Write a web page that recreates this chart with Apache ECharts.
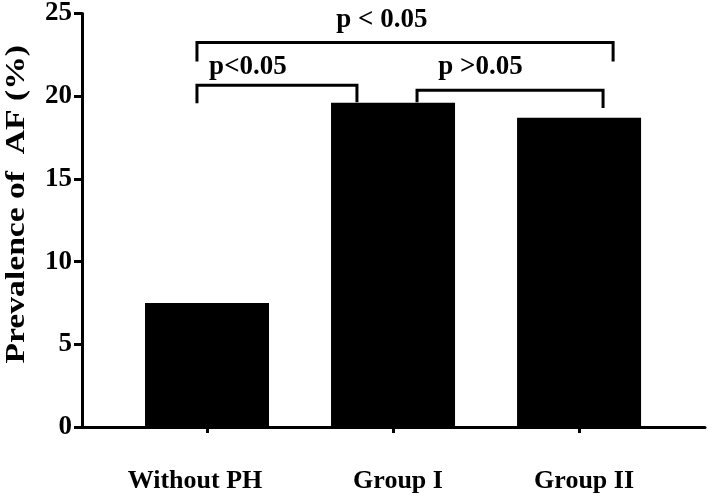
<!DOCTYPE html>
<html>
<head>
<meta charset="utf-8">
<script src="https://cdn.jsdelivr.net/npm/echarts@6/dist/echarts.min.js"></script>
<style>html,body{margin:0;padding:0;background:#fff;}#c{width:709px;height:504px;}</style>
</head>
<body>
<div id="c"></div>
<script>
// Data
const categories = ['Without PH', 'Group I', 'Group II'];
const values = [7.5, 19.6, 18.7];
const yTicks = [0, 5, 10, 15, 20, 25];
const yTitle = 'Prevalence of  AF (%)';
// significance brackets: [x, y] in data coordinates
const bracketTop = [[-0.054, 22.1], [-0.054, 23.25], [2.183, 23.25], [2.183, 22.1]];
const bracketLeft = [[-0.054, 19.58], [-0.054, 20.66], [0.806, 20.66], [0.806, 19.64]];
const bracketRight = [[1.129, 19.64], [1.129, 20.36], [2.129, 20.36], [2.129, 19.28]];
const pLabels = [
  { text: 'p < 0.05', pos: [0.94, 24.6] },
  { text: 'p<0.05', pos: [0.22, 21.75] },
  { text: 'p >0.05', pos: [1.47, 21.75] }
];

const font = '"Liberation Serif", "Times New Roman", serif';
const chart = echarts.init(document.getElementById('c'), null, { renderer: 'canvas' });

function bracket(d) {
  return {
    type: 'line', data: d, symbol: 'none', silent: true, z: 5,
    lineStyle: { color: '#000', width: 3, join: 'miter' }, animation: false
  };
}

const option = {
  animation: false,
  backgroundColor: '#fff',
  grid: { left: 82, right: 4, top: 12, bottom: 77, containLabel: false },
  xAxis: {
    type: 'value', min: -0.672, max: 2.677,
    splitLine: { show: false },
    axisLine: { show: true, onZero: false, lineStyle: { color: '#000', width: 3 } },
    axisTick: { show: true, customValues: [0, 1, 2], length: 6, lineStyle: { color: '#000', width: 3 } },
    axisLabel: {
      customValues: [0, 1, 2],
      margin: 41,
      formatter: function (v) {
        const i = Math.round(v);
        const keys = ['a', 'b', 'b'];
        return '{' + keys[i] + '|' + categories[i] + '}';
      },
      rich: {
        a: { fontFamily: font, fontWeight: 'bold', fontSize: 26, color: '#000', padding: [0, 24, 0, 0] },
        b: { fontFamily: font, fontWeight: 'bold', fontSize: 26, color: '#000', padding: [0, 0, 0, 10] }
      }
    }
  },
  yAxis: {
    type: 'value', min: 0, max: 25, interval: 5,
    splitLine: { show: false },
    axisLine: { show: true, onZero: false, lineStyle: { color: '#000', width: 3 } },
    axisTick: { show: true, inside: false, length: 8, lineStyle: { color: '#000', width: 3 } },
    axisLabel: {
      margin: 10, fontFamily: font, fontWeight: 'bold', fontSize: 27, color: '#000',
      formatter: function (v) { return yTicks.indexOf(v) >= 0 ? String(v) : ''; }
    }
  },
  graphic: [{
    type: 'text', left: 3, top: 45, rotation: Math.PI / 2, scaleX: 1.2,
    style: { text: yTitle, fontFamily: font, fontWeight: 'bold', fontSize: 28, fill: '#000' }
  }],
  series: [
    {
      type: 'bar', data: values.map((v, i) => [i, v]), barWidth: 124,
      itemStyle: { color: '#000' }, z: 3
    },
    bracket(bracketTop),
    bracket(bracketLeft),
    bracket(bracketRight),
    {
      type: 'scatter', symbolSize: 0, silent: true, z: 6,
      itemStyle: { opacity: 1 },
      data: pLabels.map(p => ({ value: p.pos, name: p.text })),
      label: {
        show: true, position: 'inside', formatter: '{b}',
        fontFamily: font, fontWeight: 'bold', fontSize: 27, color: '#000', opacity: 1
      }
    }
  ]
};
chart.setOption(option);
</script>
</body>
</html>
